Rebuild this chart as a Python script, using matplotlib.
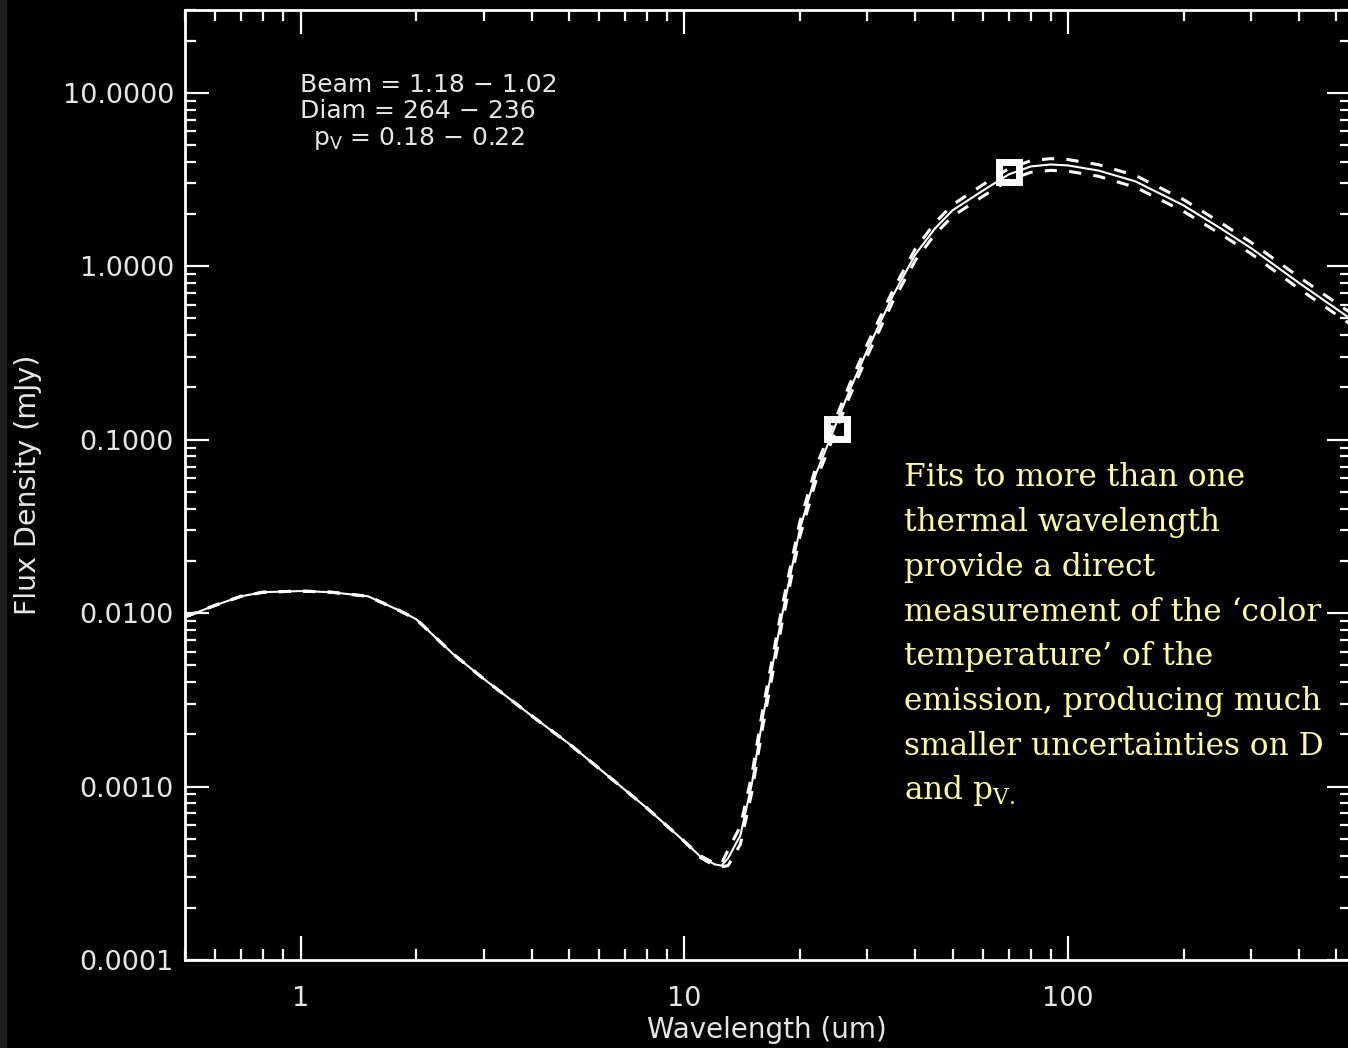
import numpy as np
import matplotlib
matplotlib.use('Agg')
import matplotlib.pyplot as plt
import matplotlib.ticker as ticker
import matplotlib.patches as mpatches

# model spectrum
wavelength = [0.5, 0.6, 0.7, 0.8, 1.0, 1.2, 1.5, 1.8, 2.0, 2.5, 3, 4, 5, 6, 8, 10,
              11, 12, 12.5, 13, 14, 15, 16, 18, 20, 22, 24.5, 27, 30, 35, 40, 45, 50,
              60, 70, 80, 90, 100, 120, 150, 200, 250, 300, 400, 550]
flux_best = [0.0095, 0.0111, 0.0125, 0.0132, 0.0134, 0.0132, 0.0125, 0.0104, 0.00924,
             0.0058, 0.00418, 0.00256, 0.00177, 0.00127, 0.00075, 0.000483,
             0.000396, 0.000356, 0.00035, 0.000386, 0.000523, 0.00104, 0.00246,
             0.0099, 0.0304, 0.063, 0.114, 0.194, 0.33, 0.68, 1.17, 1.65, 2.10,
             2.73, 3.38, 3.76, 3.86, 3.81, 3.56, 3.08, 2.24, 1.65, 1.27, 0.80, 0.49]
flux_high = [0.0095, 0.0111, 0.0125, 0.0132, 0.0134, 0.0132, 0.0125, 0.0104, 0.00924,
             0.0058, 0.00418, 0.00256, 0.00177, 0.00127, 0.00075, 0.000483,
             0.0004, 0.00036, 0.00036, 0.00043, 0.00059, 0.00117, 0.00275,
             0.0110, 0.0335, 0.069, 0.124, 0.21, 0.356, 0.73, 1.26, 1.78, 2.26,
             2.95, 3.65, 4.06, 4.17, 4.12, 3.85, 3.33, 2.42, 1.78, 1.37, 0.865, 0.53]
flux_low = [0.0095, 0.0111, 0.0125, 0.0132, 0.0134, 0.0132, 0.0125, 0.0104, 0.00924,
            0.0058, 0.00418, 0.00256, 0.00177, 0.00127, 0.00075, 0.000483,
            0.00039, 0.00035, 0.000345, 0.00035, 0.000465, 0.00093, 0.0022,
            0.0089, 0.0276, 0.0575, 0.105, 0.179, 0.305, 0.63, 1.08, 1.53, 1.94,
            2.53, 3.13, 3.48, 3.57, 3.53, 3.30, 2.85, 2.07, 1.53, 1.18, 0.74, 0.455]

# measured points
obs_wave = [25.0, 70.0]
obs_flux = [0.115, 3.47]

fit_text = ["Beam = 1.18 \u2212 1.02",
            "Diam = 264 \u2212 236",
            "p$_\\mathrm{V}$ = 0.18 \u2212 0.22"]
note_lines = ["Fits to more than one",
              "thermal wavelength",
              "provide a direct",
              "measurement of the \u2018color",
              "temperature\u2019 of the",
              "emission, producing much",
              "smaller uncertainties on D",
              "and p$_{\\mathrm{V.}}$"]

W, H = 1348, 1048
plt.rcParams['mathtext.fontset'] = 'dejavuserif'
fig = plt.figure(figsize=(W / 100, H / 100), dpi=100, facecolor='black')
fig.patches.append(mpatches.Rectangle((0, 0), 6 / W, 1, transform=fig.transFigure,
                                      color='#1e1e1e', zorder=0))

ax = fig.add_axes([185 / W, 88 / H, (1351 - 185) / W, (960 - 10) / H])
ax.set_facecolor('black')

ax.plot(wavelength, flux_best, color='white', lw=1.5)
ax.plot(wavelength, flux_high, color='white', lw=2.2, dashes=(4, 4))
ax.plot(wavelength, flux_low, color='white', lw=2.2, dashes=(4, 4))
ax.plot(obs_wave, obs_flux, 's', ms=15, mfc='none', mec='white', mew=5)

ax.set_xscale('log')
ax.set_yscale('log')
ax.set_xlim(0.5, 546)
ax.set_ylim(1e-4, 30)

grey = '#e6e6e6'
ax.xaxis.set_major_locator(ticker.FixedLocator([1, 10, 100]))
ax.xaxis.set_major_formatter(ticker.FixedFormatter(['1', '10', '100']))
ax.xaxis.set_minor_locator(ticker.LogLocator(base=10, subs=np.arange(2, 10), numticks=20))
ax.xaxis.set_minor_formatter(ticker.NullFormatter())
ax.yaxis.set_major_locator(ticker.FixedLocator([1e-4, 1e-3, 1e-2, 1e-1, 1, 10]))
ax.yaxis.set_major_formatter(ticker.FixedFormatter(
    ['0.0001', '0.0010', '0.0100', '0.1000', '1.0000', '10.0000']))
ax.yaxis.set_minor_locator(ticker.LogLocator(base=10, subs=np.arange(2, 10), numticks=20))
ax.yaxis.set_minor_formatter(ticker.NullFormatter())

ax.tick_params(which='both', direction='in', top=True, right=True, color='white', width=1.6)
ax.tick_params(which='major', length=17)
ax.tick_params(which='minor', length=8)
ax.tick_params(axis='x', which='major', pad=19)
ax.tick_params(axis='y', which='major', pad=8)
for t in ax.get_xticklabels() + ax.get_yticklabels():
    t.set_color(grey)
    t.set_fontsize(19.5)
for s in ax.spines.values():
    s.set_color('white')
    s.set_linewidth(2)

fig.text(767 / W, 1 - 1030 / H, 'Wavelength (um)', ha='center', va='center',
         color=grey, fontsize=20)
fig.text(28 / W, 1 - 485 / H, 'Flux Density (mJy)', ha='center', va='center',
         rotation=90, color=grey, fontsize=20.5)

# fit parameters
for txt, (px, py) in zip(fit_text, [(300, 85), (300, 111), (313, 138)]):
    fig.text(px / W, 1 - py / H, txt, ha='left', va='center', color=grey,
             fontsize=18, family='DejaVu Sans', math_fontfamily='dejavusans')

# slide note
for i, line in enumerate(note_lines):
    fig.text(904 / W, 1 - (478 + i * 44.7) / H, line, ha='left', va='center',
             color='#ffff99', fontsize=22.5, family='DejaVu Serif')

fig.savefig('out.png', dpi=100, facecolor='black')
